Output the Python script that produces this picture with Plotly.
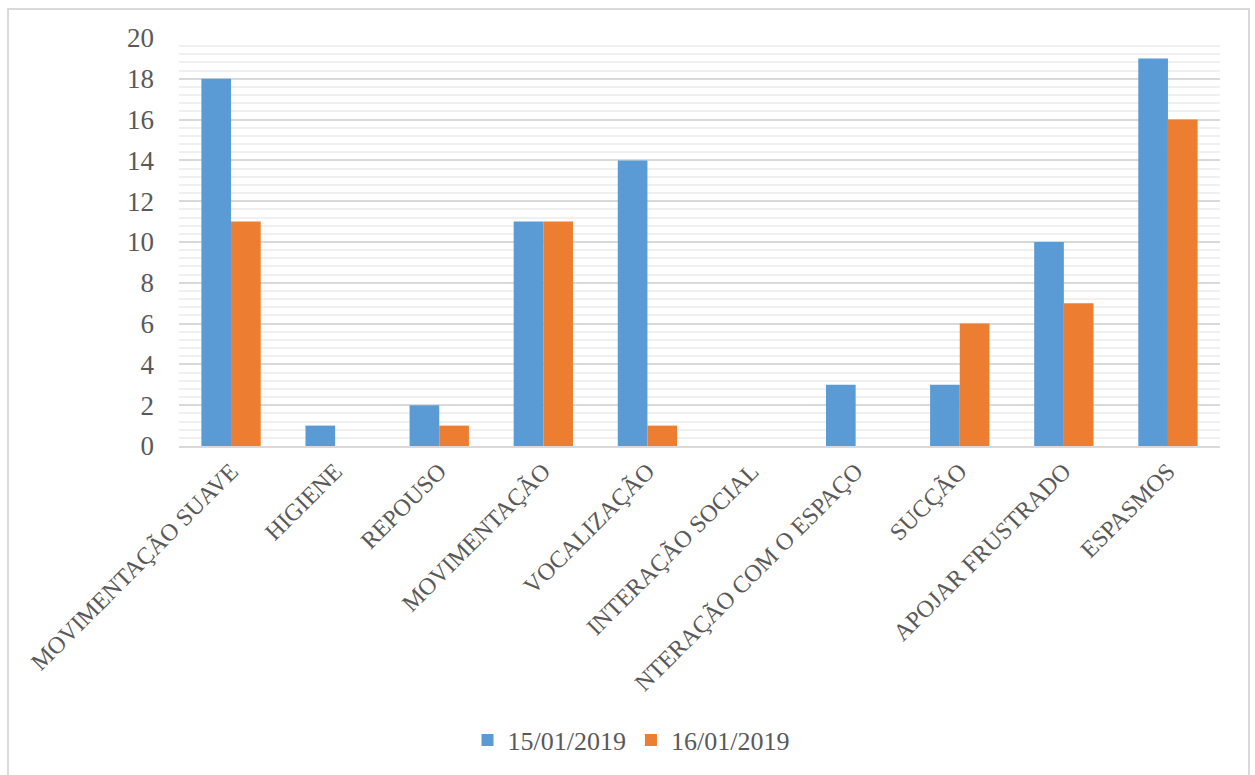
import plotly.graph_objects as go

categories = [
    "MOVIMENTAÇÃO SUAVE",
    "HIGIENE",
    "REPOUSO",
    "MOVIMENTAÇÃO",
    "VOCALIZAÇÃO",
    "INTERAÇÃO SOCIAL",
    "NTERAÇÃO COM O ESPAÇO",
    "SUCÇÃO",
    "APOJAR FRUSTRADO",
    "ESPASMOS",
]
dia_15 = [18, 1, 2, 11, 14, 0, 3, 3, 10, 19]
dia_16 = [11, 0, 1, 11, 1, 0, 0, 6, 7, 16]
series_names = ["15/01/2019", "16/01/2019"]
y_ticks = [0, 2, 4, 6, 8, 10, 12, 14, 16, 18, 20]

W, H = 1255, 775
L, R, T, B = 179, 35, 38, 329
FONT = "Liberation Serif"
TEXT = "#595959"

fig = go.Figure()
fig.add_trace(go.Bar(x=categories, y=dia_15, name=series_names[0],
                     marker=dict(color="#5B9BD5", line=dict(width=0))))
fig.add_trace(go.Bar(x=categories, y=dia_16, name=series_names[1],
                     marker=dict(color="#ED7D31", line=dict(width=0))))

pw = W - L - R
ph = H - T - B
def px_x(p):
    return (p - L) / pw
def px_y(p):
    return (H - B - p) / ph

fig.update_layout(
    width=W, height=H,
    margin=dict(l=L, r=R, t=T, b=B),
    paper_bgcolor="white", plot_bgcolor="white",
    barmode="group", bargap=0.43, bargroupgap=0,
    font=dict(family=FONT, color=TEXT),
    showlegend=True,
    legend=dict(orientation="h", x=px_x(631), xanchor="center", y=px_y(740), yanchor="middle",
                font=dict(family=FONT, size=26, color=TEXT),
                itemwidth=30, traceorder="normal"),
    xaxis=dict(tickangle=-45, tickfont=dict(family=FONT, size=24, color=TEXT),
               showgrid=False, showline=True, linecolor="#d9d9d9", linewidth=1.5,
               ticks="", automargin=False),
    yaxis=dict(range=[0, 20], tickvals=y_ticks, tickfont=dict(family=FONT, size=27, color=TEXT),
               showgrid=True, gridcolor="#d9d9d9", gridwidth=1.5,
               minor=dict(dtick=0.4, showgrid=True, gridcolor="#f0f0f0", gridwidth=1.5),
               zeroline=False, showline=False, ticks="", ticklabelstandoff=24,
               automargin=False),
    shapes=[dict(type="rect", xref="paper", yref="paper",
                 x0=px_x(8), x1=px_x(1249), y0=px_y(790), y1=px_y(9),
                 line=dict(color="#d9d9d9", width=2), fillcolor="rgba(0,0,0,0)", layer="below")],
)

fig.write_html("out.html")
